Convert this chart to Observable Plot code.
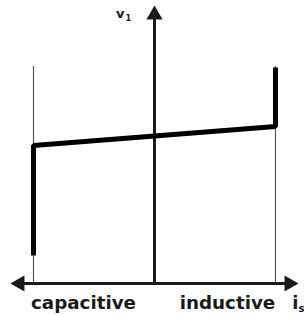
<!DOCTYPE html>
<html>
<head>
<meta charset="utf-8">
<script src="https://cdn.jsdelivr.net/npm/d3@7"></script>
<script src="https://cdn.jsdelivr.net/npm/@observablehq/plot@0.6"></script>
<style>
  html, body { margin: 0; padding: 0; background: #fff; }
  #chart svg { display: block; }
</style>
</head>
<body>
<div id="chart"></div>
<script>
// Characteristic v1 vs is (normalized current, voltage in arbitrary units)
const characteristicI = [-1, -1, 1, 1];
const characteristicV = [28, 138, 157, 216];
// Current limits (thin vertical guide lines)
const limitI = [-1, 1];
const limitTop = 217;
// Axis extents
const axisI = [-1.19, 1.19];
const axisVTop = 278;
// Region labels
const regionLabels = ["capacitive", "inductive"];
const regionSigns = [-1, 1];

const charData = characteristicI.map((i, k) => ({i, v: characteristicV[k]}));
const labelData = regionLabels.map((t, k) => ({t, i: regionSigns[k] * axisI[1] / 2, v: 0}));
const font = "DejaVu Sans";
const ink = "#1a1a1a";

const chart = Plot.plot({
  width: 304,
  height: 315,
  margin: 0,
  x: {domain: axisI, range: [10, 298], axis: null},
  y: {domain: [0, axisVTop], range: [283, 5], axis: null},
  style: {background: "#fff"},
  marks: [
    // thin limit lines
    Plot.ruleX(limitI, {x: d => d, y1: limitTop, y2: 0, stroke: "#555", strokeWidth: 1.2}),
    // axes shafts
    Plot.ruleY([0], {x1: axisI[0], x2: axisI[1], stroke: ink, strokeWidth: 3, insetLeft: 10, insetRight: 10}),
    Plot.ruleX([0], {y1: axisVTop, y2: 0, stroke: ink, strokeWidth: 3, insetTop: 10}),
    // arrowheads
    Plot.dot([{i: 0, v: axisVTop}], {x: "i", y: "v", symbol: "triangle", r: 6, fill: ink, stroke: "none", dy: 9.3}),
    Plot.dot([{i: axisI[1], v: 0}], {x: "i", y: "v", symbol: "triangle", r: 6, fill: ink, stroke: "none", rotate: 90, dx: -9.3}),
    Plot.dot([{i: axisI[0], v: 0}], {x: "i", y: "v", symbol: "triangle", r: 6, fill: ink, stroke: "none", rotate: -90, dx: 9.3}),
    // characteristic
    Plot.line(charData, {x: "i", y: "v", stroke: "#000", strokeWidth: 5, strokeLinejoin: "miter", strokeLinecap: "butt", curve: "linear"}),
    // region labels
    Plot.text(labelData, {x: "i", y: "v", text: "t", dy: 25, dx: 1, lineAnchor: "bottom", fontFamily: font, fontWeight: "bold", fontSize: 18.3, fill: ink}),
    // axis labels
    Plot.text(["i"], {x: axisI[1], y: 0, text: d => d, dy: 25, textAnchor: "end", lineAnchor: "bottom", fontFamily: font, fontWeight: "bold", fontSize: 18, fill: ink}),
    Plot.text(["s"], {x: axisI[1], y: 0, text: d => d, dy: 28, textAnchor: "start", lineAnchor: "bottom", fontFamily: font, fontWeight: "bold", fontSize: 10, fill: ink}),
    Plot.text(["v"], {x: 0, y: axisVTop, text: d => d, dx: -30, dy: 12, textAnchor: "end", lineAnchor: "bottom", fontFamily: font, fontWeight: "bold", fontSize: 13, fill: ink}),
    Plot.text(["1"], {x: 0, y: axisVTop, text: d => d, dx: -29, dy: 15, textAnchor: "start", lineAnchor: "bottom", fontFamily: font, fontWeight: "bold", fontSize: 8, fill: ink})
  ]
});
document.getElementById("chart").appendChild(chart);
</script>
</body>
</html>
